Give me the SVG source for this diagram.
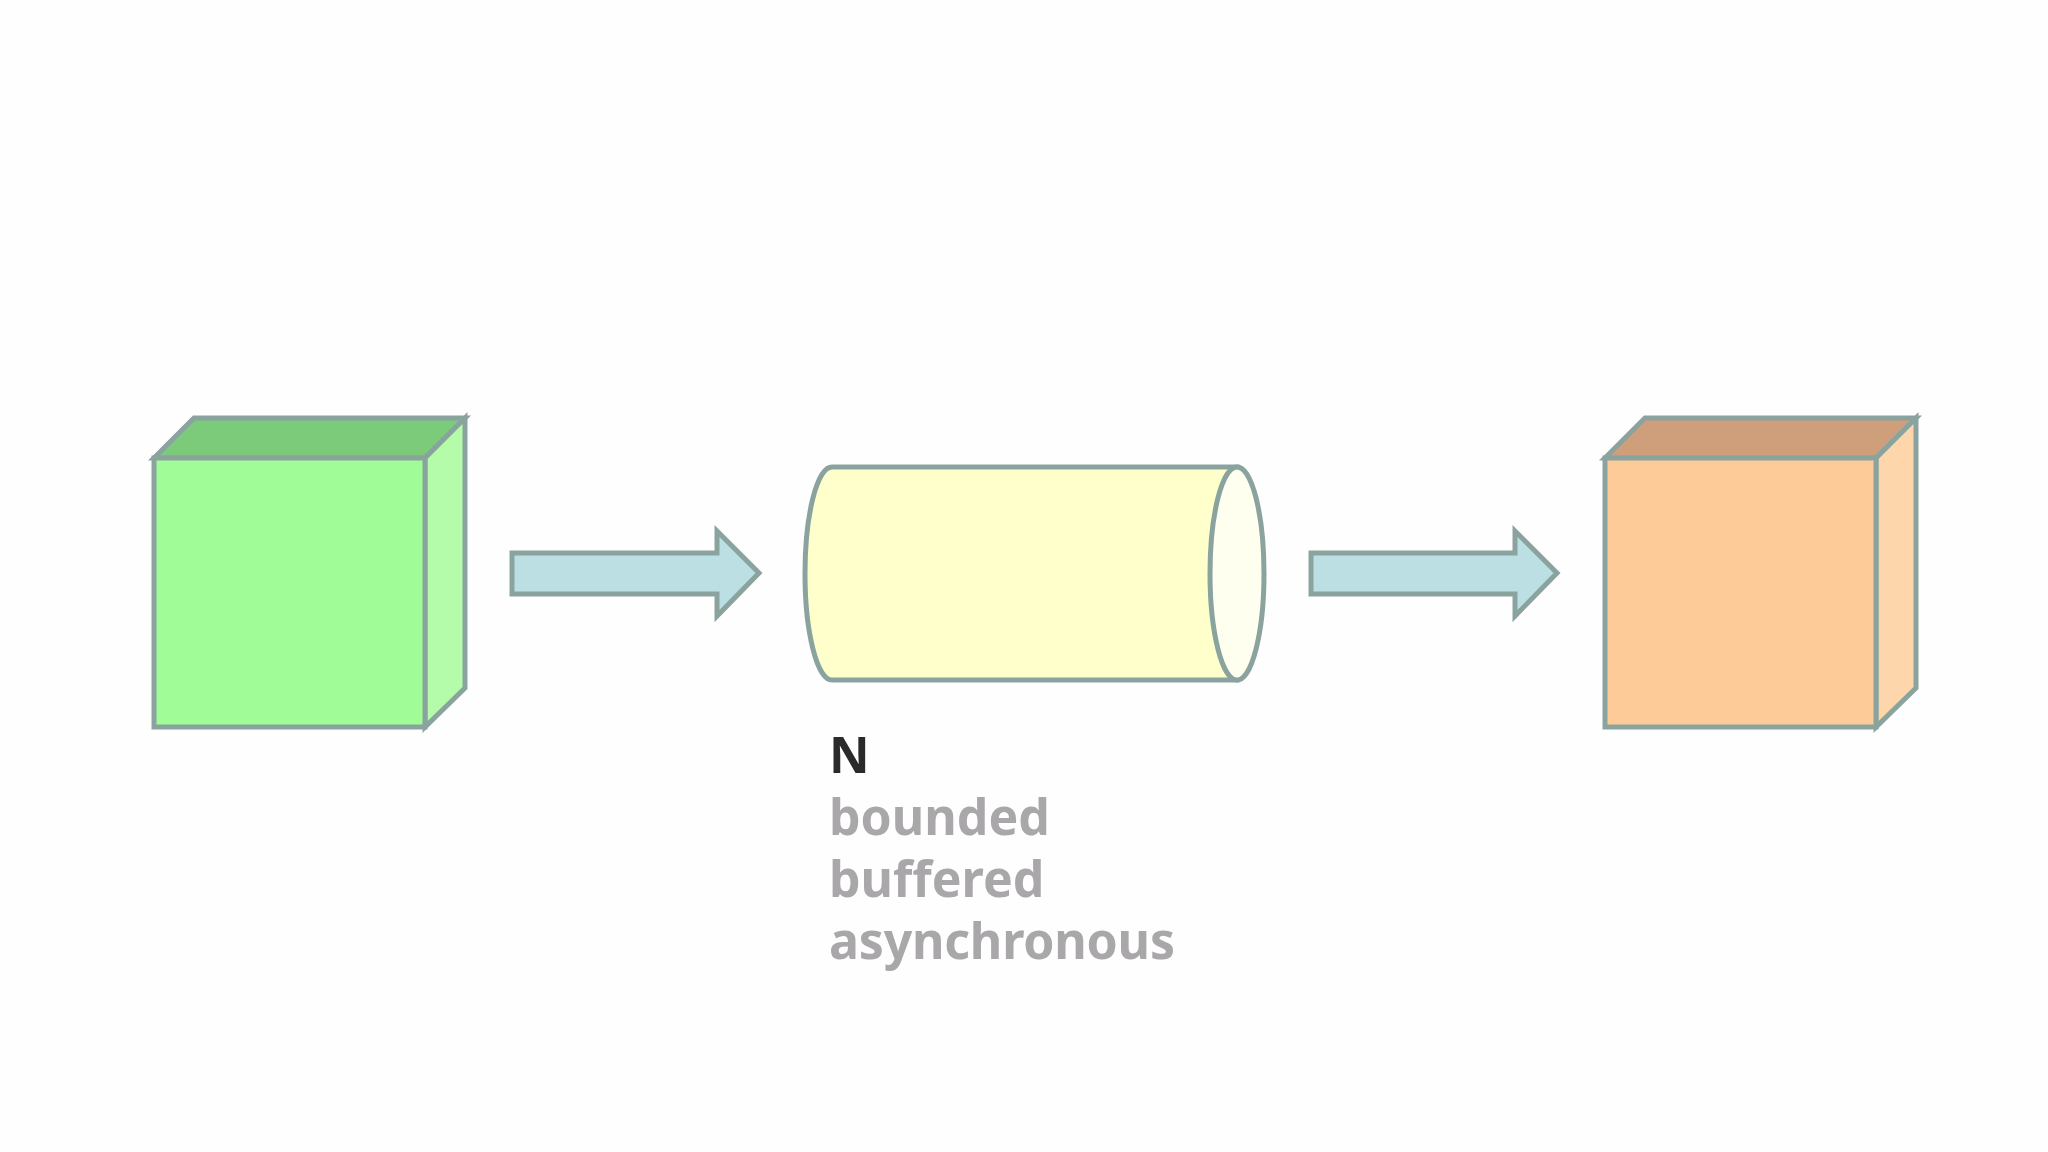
<svg xmlns="http://www.w3.org/2000/svg" width="2048" height="1152" viewBox="0 0 2048 1152">
<style>
.s{stroke:#8aa39f;stroke-width:5;stroke-linejoin:miter}
.t{font-family:"Noto Sans",sans-serif;font-weight:bold;font-size:50px;fill:#a9a7a9}
</style>
<rect width="2048" height="1152" fill="#fefefe"/>
<g id="producer">
<polygon class="s" points="154,458 194,418 465,418 425,458" fill="#7bcb7b"/>
<polygon class="s" points="425,458 465,418 465,688 425,727" fill="#b5fcaa"/>
<rect class="s" x="154" y="458" width="271" height="269" fill="#a0fc96"/>
</g>
<g id="connectors">
<polygon class="s" points="512,553 717,553 717,531 759,573 717,616 717,594 512,594" fill="#bbdfe2"/>
<polygon class="s" points="1311,553 1515,553 1515,531 1557,573 1515,616 1515,594 1311,594" fill="#bbdfe2"/>
</g>
<g id="channel">
<path class="s" d="M832,467 L1237,467 L1237,680 L832,680 A27,106.5 0 0 1 832,467 Z" fill="#ffffcc"/>
<ellipse class="s" cx="1237" cy="573.5" rx="27" ry="106.5" fill="#fffff0"/>
<text x="829" y="773" font-family="Noto Sans,sans-serif" font-weight="bold" font-size="50" fill="#2a2a2a">N</text>
<text class="t" x="829" y="835">bounded</text>
<text class="t" x="829" y="897">buffered</text>
<text class="t" x="829" y="959" textLength="346">asynchronous</text>
</g>
<g id="consumer">
<polygon class="s" points="1605,458 1645,418 1916,418 1876,458" fill="#cf9f7b"/>
<polygon class="s" points="1876,458 1916,418 1916,688 1876,727" fill="#fdd6ab"/>
<rect class="s" x="1605" y="458" width="271" height="269" fill="#fdcb98"/>
</g>
</svg>
